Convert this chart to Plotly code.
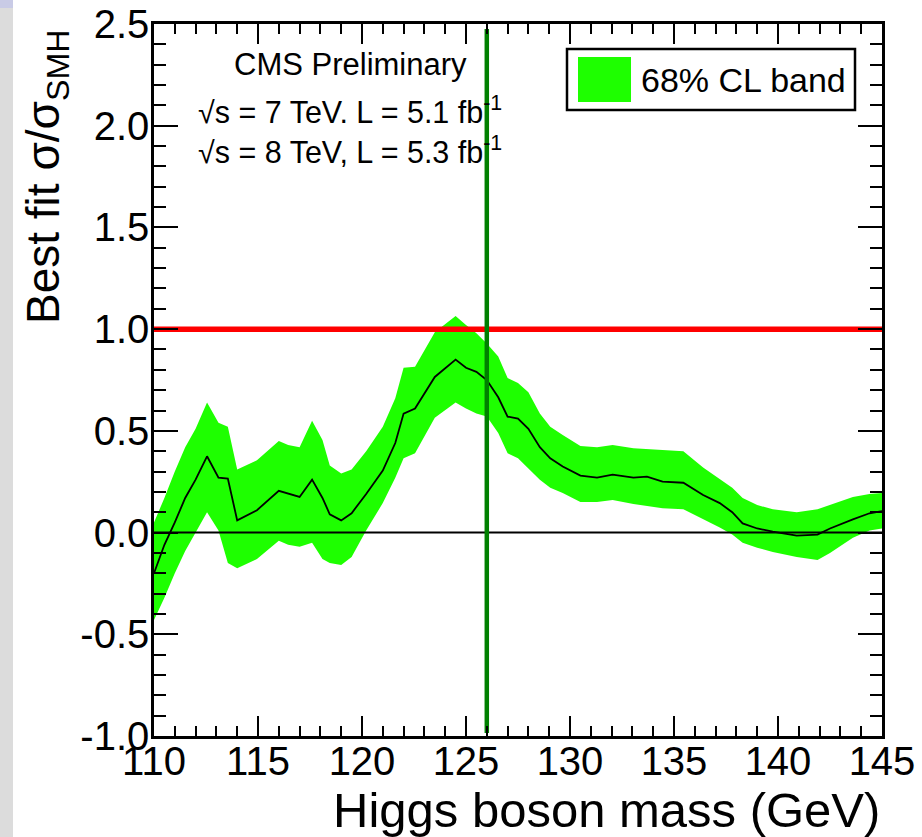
import plotly.graph_objects as go

# Higgs boson mass points (GeV)
mass = [110.0, 110.5, 111.0, 111.5, 112.0, 112.55, 113.1, 113.55, 114.0, 114.95,
        116.0, 116.45, 117.0, 117.6, 118.1, 118.45, 119.0, 119.5, 120.2, 121.0,
        121.6, 122.0, 122.55, 123.5, 124.5, 125.0, 125.5, 126.0, 126.55, 127.0,
        127.5, 128.0, 128.55, 129.05, 129.65, 130.5, 131.3, 132.05, 133.05, 133.7,
        134.45, 135.45, 136.4, 137.2, 137.8, 138.3, 139.0, 139.75, 140.9, 141.9,
        142.5, 143.6, 144.4, 145.0]
# best fit sigma/sigma_SM
best_fit = [-0.20, -0.06, 0.05, 0.17, 0.26, 0.375, 0.27, 0.265, 0.06, 0.11,
            0.205, 0.19, 0.175, 0.26, 0.17, 0.09, 0.06, 0.095, 0.19, 0.305,
            0.44, 0.585, 0.61, 0.765, 0.85, 0.81, 0.79, 0.75, 0.665, 0.57,
            0.56, 0.51, 0.42, 0.365, 0.325, 0.28, 0.27, 0.285, 0.27, 0.275,
            0.25, 0.245, 0.185, 0.145, 0.10, 0.045, 0.02, 0.005, -0.015, -0.01,
            0.02, 0.065, 0.095, 0.105]
band_hi = [0.05, 0.17, 0.30, 0.42, 0.51, 0.64, 0.54, 0.52, 0.31, 0.355,
           0.45, 0.43, 0.42, 0.55, 0.455, 0.33, 0.29, 0.31, 0.40, 0.52,
           0.66, 0.81, 0.815, 0.985, 1.065, 1.02, 0.98, 0.93, 0.865, 0.76,
           0.735, 0.69, 0.585, 0.52, 0.48, 0.425, 0.42, 0.43, 0.415, 0.41,
           0.405, 0.40, 0.32, 0.265, 0.22, 0.17, 0.135, 0.115, 0.10, 0.115,
           0.135, 0.175, 0.19, 0.195]
band_lo = [-0.43, -0.32, -0.20, -0.09, 0.00, 0.10, 0.01, -0.15, -0.175, -0.13,
           -0.04, -0.06, -0.07, -0.05, -0.13, -0.15, -0.16, -0.12, 0.01, 0.145,
           0.27, 0.365, 0.39, 0.565, 0.64, 0.61, 0.585, 0.57, 0.49, 0.39,
           0.365, 0.315, 0.26, 0.22, 0.195, 0.15, 0.15, 0.16, 0.14, 0.13,
           0.12, 0.115, 0.065, 0.025, -0.01, -0.05, -0.075, -0.095, -0.12, -0.135,
           -0.10, -0.025, 0.01, 0.02]

x_range = [110, 145]
y_range = [-1.0, 2.5]
sm_value = 1.0
mh_line = 126.0
mh_line_y = [-0.985, 2.475]

x_ticks = [110, 115, 120, 125, 130, 135, 140, 145]
y_ticks = [-1.0, -0.5, 0.0, 0.5, 1.0, 1.5, 2.0, 2.5]

GREEN = "#1eff00"
FONT = "Liberation Sans, Arial, Helvetica, sans-serif"

fig = go.Figure()

# 68% CL band as closed polygon
fig.add_trace(go.Scatter(
    x=mass + mass[::-1], y=band_hi + band_lo[::-1],
    fill="toself", fillcolor=GREEN, line=dict(width=0, color=GREEN),
    mode="lines", hoverinfo="skip", showlegend=False))
# zero line
fig.add_trace(go.Scatter(x=x_range, y=[0, 0], mode="lines",
                         line=dict(color="black", width=2), showlegend=False))
# SM line
fig.add_trace(go.Scatter(x=x_range, y=[sm_value, sm_value], mode="lines",
                         line=dict(color="#ff0000", width=5.5), showlegend=False))
# best fit
fig.add_trace(go.Scatter(x=mass, y=best_fit, mode="lines",
                         line=dict(color="black", width=1.8), showlegend=False))
# mH vertical line
fig.add_trace(go.Scatter(x=[mh_line, mh_line], y=mh_line_y, mode="lines",
                         line=dict(color="#008000", width=4.5), showlegend=False))

axis_common = dict(
    showgrid=False, zeroline=False, showline=True, linecolor="black", linewidth=2.5,
    mirror="allticks", ticks="inside", tickcolor="black", tickwidth=2, automargin=False,
    tickfont=dict(family=FONT, size=40, color="black"),
)

fig.update_xaxes(range=x_range, tickvals=x_ticks, ticktext=[str(t) for t in x_ticks],
                 ticklen=20,
                 minor=dict(dtick=1, ticklen=10, tickwidth=2, tickcolor="black", ticks="inside"),
                 ticklabelstandoff=-12, **axis_common)
fig.update_yaxes(range=y_range, tickvals=y_ticks, ticktext=[f"{t:.1f}" for t in y_ticks],
                 ticklen=24,
                 minor=dict(dtick=0.1, ticklen=12, tickwidth=2, tickcolor="black", ticks="inside"),
                 ticklabelstandoff=-6, **axis_common)

W, H = 922, 837
L, R, T, B = 154, 40, 24, 101
pw, ph = W - L - R, H - T - B


def px(xp):
    return (xp - L) / pw


def py(yp):
    return (H - B - yp) / ph


annotations = [
    dict(text="Higgs boson mass (GeV)", x=px(882), y=py(810), xanchor="right", yanchor="middle",
         font=dict(family=FONT, size=49, color="black")),
    dict(text="Best fit σ/σ<sub>SMH</sub>", x=px(46), y=py(28), xanchor="center", yanchor="top",
         textangle=-90, font=dict(family=FONT, size=46, color="black")),
    dict(text="CMS Preliminary", x=px(350), y=py(64), xanchor="center", yanchor="middle",
         font=dict(family=FONT, size=31, color="black")),
    dict(text="√s = 7 TeV. L = 5.1 fb<sup>-1</sup>", x=px(196), y=py(110), xanchor="left",
         yanchor="middle", font=dict(family=FONT, size=30.5, color="black")),
    dict(text="√s = 8 TeV, L = 5.3 fb<sup>-1</sup>", x=px(196), y=py(150), xanchor="left",
         yanchor="middle", font=dict(family=FONT, size=30.5, color="black")),
    dict(text="68% CL band", x=px(639), y=py(80), xanchor="left", yanchor="middle",
         font=dict(family=FONT, size=34, color="black")),
]
for a in annotations:
    a.update(xref="paper", yref="paper", showarrow=False)

shapes = [
    # legend box
    dict(type="rect", xref="paper", yref="paper", x0=px(567), x1=px(855), y0=py(110), y1=py(49),
         line=dict(color="black", width=2.5), fillcolor="white", layer="above"),
    dict(type="rect", xref="paper", yref="paper", x0=px(578), x1=px(631), y0=py(102), y1=py(57),
         line=dict(width=0), fillcolor=GREEN, layer="above"),
    # slide background strip on the left edge
    dict(type="rect", xref="paper", yref="paper", x0=px(0), x1=px(13), y0=py(H), y1=py(0),
         line=dict(width=0), fillcolor="#dcdcdc", layer="below"),
    dict(type="rect", xref="paper", yref="paper", x0=px(0), x1=px(13), y0=py(8), y1=py(0),
         line=dict(width=0), fillcolor="#c9cbe6", layer="below"),
]

fig.update_layout(
    width=W, height=H,
    margin=dict(l=L, r=R, t=T, b=B),
    paper_bgcolor="white", plot_bgcolor="white",
    showlegend=False,
    annotations=annotations, shapes=shapes,
    font=dict(family=FONT, color="black"),
)

fig.write_html("out.html")
